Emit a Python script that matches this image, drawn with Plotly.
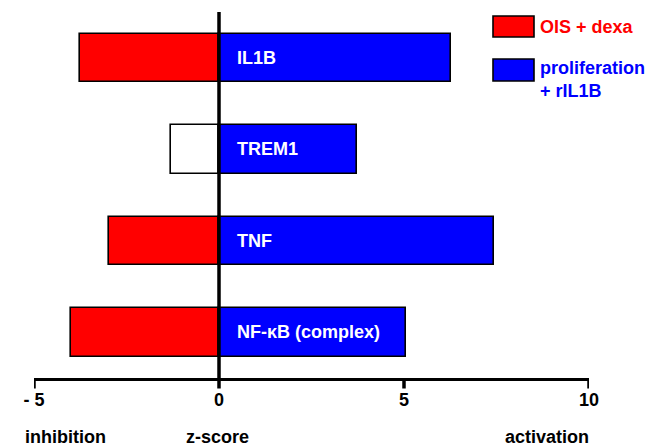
import plotly.graph_objects as go

categories = ["IL1B", "TREM1", "TNF", "NF-κB (complex)"]
ois_dexa = [-3.76, -1.31, -2.98, -3.99]
ois_dexa_significant = [True, False, True, True]
prolif_rIL1B = [6.27, 3.73, 7.42, 5.06]
tick_vals = [-5, 0, 5, 10]
tick_text = ["- 5", "0", "5", "10"]
series_names = ["OIS + dexa", "proliferation<br>+ rIL1B"]
RED = "#ff0000"
BLUE = "#0000ff"

FONT = "Liberation Sans, Arial, sans-serif"
FS = 18
n = len(categories)
ypos = [n - 1 - i for i in range(n)]  # IL1B at top

red_colors = [RED if s else "#ffffff" for s in ois_dexa_significant]

fig = go.Figure()
fig.add_trace(go.Bar(
    y=ypos, x=ois_dexa, orientation="h", width=0.53,
    marker=dict(color=red_colors, line=dict(color="#000000", width=1.6)),
    name="OIS + dexa", showlegend=False, hoverinfo="x+name",
))
fig.add_trace(go.Bar(
    y=ypos, x=prolif_rIL1B, orientation="h", width=0.53,
    marker=dict(color=BLUE, line=dict(color="#000000", width=1.6)),
    name="proliferation + rIL1B", showlegend=False, hoverinfo="x+name",
))

plot_h = 447 - 12 - 69
plot_w = 649 - 34 - 60

# zero line above bars
fig.add_shape(type="line", xref="x", yref="paper", x0=0, x1=0, y0=0, y1=1,
              line=dict(color="black", width=3.5), layer="above")

# tick marks (outside, downward)
for tv in tick_vals:
    fig.add_shape(type="line", xref="x", yref="paper", x0=tv, x1=tv,
                  y0=0, y1=-10.5 / plot_h, line=dict(color="black", width=3.5),
                  layer="above")

# labels inside blue bars
for cat, yp in zip(categories, ypos):
    fig.add_annotation(x=0, y=yp, xref="x", yref="y", text="<b>%s</b>" % cat,
                       showarrow=False, xanchor="left", yanchor="middle", xshift=16,
                       font=dict(family=FONT, size=FS, color="white"))

# bottom labels
for txt, xv in [("inhibition", -4.15), ("z-score", -0.05), ("activation", 8.87)]:
    fig.add_annotation(x=xv, y=-0.161, xref="x", yref="paper", text="<b>%s</b>" % txt,
                       showarrow=False, xanchor="center", yanchor="middle",
                       font=dict(family=FONT, size=FS, color="black"))

# legend (boxes + text)
def px_x(p):
    return (p - 34) / plot_w
def px_y(p):
    return (447 - 69 - p) / plot_h

legend_items = [(series_names[0], RED, 16, 37, 27), (series_names[1], BLUE, 59, 81, 79)]
for name, col, top, bot, ty in legend_items:
    fig.add_shape(type="rect", xref="paper", yref="paper",
                  x0=px_x(493), x1=px_x(534), y0=px_y(bot), y1=px_y(top),
                  fillcolor=col, line=dict(color="black", width=1.6))
    fig.add_annotation(x=px_x(538), y=px_y(ty), xref="paper", yref="paper",
                       text="<b>%s</b>" % name, showarrow=False, xanchor="left",
                       yanchor="middle", align="left",
                       font=dict(family=FONT, size=FS, color=col))

fig.update_layout(
    width=649, height=447,
    margin=dict(l=34, r=60, t=12, b=69),
    paper_bgcolor="white", plot_bgcolor="white",
    barmode="overlay", bargap=0,
    xaxis=dict(range=[-5, 10], tickvals=tick_vals, ticktext=tick_text,
               showgrid=False, zeroline=False, showline=True, linecolor="black",
               linewidth=3, ticks="", ticklabelstandoff=3,
               tickfont=dict(family=FONT, size=FS, color="black", weight="bold"),
               fixedrange=True),
    yaxis=dict(range=[-0.5, n - 0.5], showgrid=False, zeroline=False, showline=False,
               showticklabels=False, ticks="", fixedrange=True),
    showlegend=False,
)

fig.write_html("out.html")
